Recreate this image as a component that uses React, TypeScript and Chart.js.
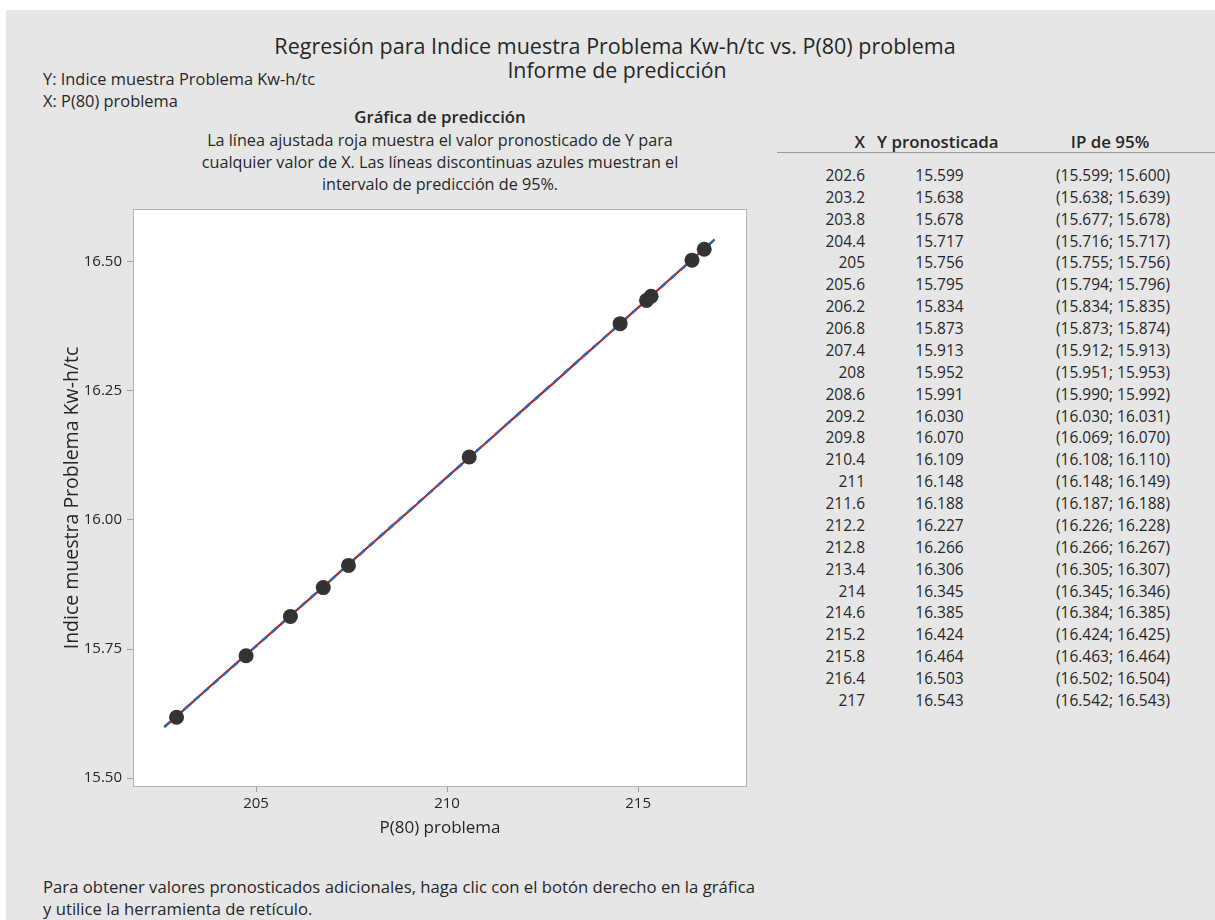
import React, { useEffect, useRef } from "react";
import { Chart, registerables } from "chart.js";

Chart.register(...registerables);

// Prediction table (X, predicted Y, 95% prediction interval)
const tableX = [202.6, 203.2, 203.8, 204.4, 205, 205.6, 206.2, 206.8, 207.4, 208, 208.6, 209.2, 209.8, 210.4, 211, 211.6, 212.2, 212.8, 213.4, 214, 214.6, 215.2, 215.8, 216.4, 217];
const predY = [15.599, 15.638, 15.678, 15.717, 15.756, 15.795, 15.834, 15.873, 15.913, 15.952, 15.991, 16.03, 16.07, 16.109, 16.148, 16.188, 16.227, 16.266, 16.306, 16.345, 16.385, 16.424, 16.464, 16.503, 16.543];
const piLow = [15.599, 15.638, 15.677, 15.716, 15.755, 15.794, 15.834, 15.873, 15.912, 15.951, 15.99, 16.03, 16.069, 16.108, 16.148, 16.187, 16.226, 16.266, 16.305, 16.345, 16.384, 16.424, 16.463, 16.502, 16.542];
const piHigh = [15.6, 15.639, 15.678, 15.717, 15.756, 15.796, 15.835, 15.874, 15.913, 15.953, 15.992, 16.031, 16.07, 16.11, 16.149, 16.188, 16.228, 16.267, 16.307, 16.346, 16.385, 16.425, 16.464, 16.504, 16.543];

// Observed samples
const obsX = [202.92, 204.74, 205.9, 206.76, 207.42, 210.58, 214.53, 215.22, 215.34, 216.41, 216.73];
const obsY = [15.618, 15.737, 15.813, 15.869, 15.912, 16.122, 16.38, 16.425, 16.433, 16.503, 16.524];

// Axis ticks
const xTicks = [205, 210, 215];
const yTicks = [15.5, 15.75, 16.0, 16.25, 16.5];

const FONT = "'Open Sans', 'Noto Sans', sans-serif";
const TEXT = "#262626";
const BG = "#e6e6e6";

const plotFrame = {
  id: "plotFrame",
  beforeDraw(chart: any) {
    const { ctx, chartArea: a } = chart;
    ctx.save();
    ctx.fillStyle = "#ffffff";
    ctx.fillRect(a.left, a.top, a.right - a.left, a.bottom - a.top);
    ctx.strokeStyle = "#b4b4b4";
    ctx.lineWidth = 1;
    ctx.strokeRect(a.left + 0.5, a.top + 0.5, a.right - a.left - 1, a.bottom - a.top - 1);
    ctx.restore();
  },
};

function PredictionChart() {
  const ref = useRef<HTMLCanvasElement | null>(null);
  useEffect(() => {
    if (!ref.current) return;
    const line = (ys: number[]) => tableX.map((x, i) => ({ x, y: ys[i] }));
    const chart = new Chart(ref.current, {
      type: "scatter",
      data: {
        datasets: [
          {
            label: "obs",
            data: obsX.map((x, i) => ({ x, y: obsY[i] })),
            backgroundColor: "#333333",
            borderWidth: 0,
            pointRadius: 7.5,
            order: 0,
          },
          {
            label: "lower",
            data: line(piLow),
            showLine: true,
            borderColor: "#3b63aa",
            borderWidth: 2,
            borderDash: [7, 6],
            pointRadius: 0,
            order: 1,
          },
          {
            label: "upper",
            data: line(piHigh),
            showLine: true,
            borderColor: "#3b63aa",
            borderWidth: 2,
            borderDash: [7, 6],
            pointRadius: 0,
            order: 2,
          },
          {
            label: "fit",
            data: line(predY),
            showLine: true,
            borderColor: "#b3242b",
            borderWidth: 2.2,
            pointRadius: 0,
            order: 3,
          },
        ],
      },
      options: {
        animation: false,
        responsive: false,
        events: [],
        layout: { padding: { top: 14, right: 23, left: 0, bottom: 0 } },
        plugins: { legend: { display: false }, tooltip: { enabled: false } },
        scales: {
          x: {
            type: "linear",
            min: 201.78,
            max: 217.85,
            afterBuildTicks: (s: any) => {
              s.ticks = xTicks.map((v) => ({ value: v }));
            },
            afterFit: (s: any) => {
              s.height = 68;
            },
            grid: { drawOnChartArea: false, drawTicks: true, tickLength: 5, tickColor: "#a0a0a0" },
            border: { display: false },
            ticks: {
              color: TEXT,
              font: { family: FONT, size: 15 },
              padding: 3,
              maxRotation: 0,
              autoSkip: false,
              callback: (v: any) => String(v),
            },
            title: {
              display: true,
              text: "P(80) problema",
              color: TEXT,
              font: { family: FONT, size: 17 },
              padding: { top: 0, bottom: 16.8 },
            },
          },
          y: {
            type: "linear",
            min: 15.483,
            max: 16.602,
            afterBuildTicks: (s: any) => {
              s.ticks = yTicks.map((v) => ({ value: v }));
            },
            afterFit: (s: any) => {
              s.width = 93;
            },
            grid: { drawOnChartArea: false, drawTicks: true, tickLength: 6, tickColor: "#a0a0a0" },
            border: { display: false },
            ticks: {
              color: TEXT,
              font: { family: FONT, size: 15 },
              padding: 5,
              autoSkip: false,
              callback: (v: any) => Number(v).toFixed(2),
            },
            title: {
              display: true,
              text: "Indice muestra Problema Kw-h/tc",
              color: TEXT,
              font: { family: FONT, size: 19.5 },
              padding: { top: 21, bottom: 0 },
            },
          },
        },
      },
      plugins: [plotFrame],
    });
    return () => chart.destroy();
  }, []);
  return (
    <canvas
      ref={ref}
      width={730}
      height={660}
      style={{ position: "absolute", left: 40, top: 195, width: 730, height: 660 }}
    />
  );
}

const abs = (left: number, top: number, extra: React.CSSProperties = {}): React.CSSProperties => ({
  position: "absolute",
  left,
  top,
  whiteSpace: "nowrap",
  lineHeight: "20px",
  ...extra,
});

export default function App() {
  const rowTop = 165;
  const rowStep = 21.87;
  return (
    <div
      style={{
        position: "absolute",
        left: 0,
        top: 0,
        width: 1215,
        height: 920,
        background: "#ffffff",
        overflow: "hidden",
        fontFamily: FONT,
        color: TEXT,
      }}
    >
      <div style={{ position: "absolute", left: 6, top: 10, width: 1209, height: 910, background: BG }} />

      <div style={abs(115, 35, { width: 1000, textAlign: "center", fontSize: 21.5, lineHeight: "22px" })}>
        Regresión para Indice muestra Problema Kw-h/tc vs. P(80) problema
      </div>
      <div style={abs(117, 59, { width: 1000, textAlign: "center", fontSize: 21.3, lineHeight: "22px" })}>
        Informe de predicción
      </div>

      <div style={abs(43, 69, { fontSize: 16.4 })}>Y: Indice muestra Problema Kw-h/tc</div>
      <div style={abs(43, 91, { fontSize: 16.4 })}>X: P(80) problema</div>

      <div style={abs(240, 107, { width: 400, textAlign: "center", fontSize: 16.8, fontWeight: 600 })}>
        Gráfica de predicción
      </div>
      <div
        style={abs(140, 129, {
          width: 600,
          textAlign: "center",
          fontSize: 16.2,
          lineHeight: "22px",
          whiteSpace: "normal",
        })}
      >
        La línea ajustada roja muestra el valor pronosticado de Y para
        <br />
        cualquier valor de X. Las líneas discontinuas azules muestran el
        <br />
        intervalo de predicción de 95%.
      </div>

      <PredictionChart />

      {/* prediction table */}
      <div style={abs(800, 132, { width: 65, textAlign: "right", fontSize: 16.9, fontWeight: 600 })}>X</div>
      <div style={abs(877, 132, { fontSize: 16.9, fontWeight: 600 })}>Y pronosticada</div>
      <div style={abs(1010, 132, { width: 200, textAlign: "center", fontSize: 16.9, fontWeight: 600 })}>
        IP de 95%
      </div>
      <div style={{ position: "absolute", left: 777, top: 152, width: 438, height: 1, background: "#9a9a9a" }} />
      {tableX.map((x, i) => (
        <React.Fragment key={i}>
          <div style={abs(780, rowTop + i * rowStep, { width: 85, textAlign: "right", fontSize: 15.5 })}>
            {String(x)}
          </div>
          <div style={abs(900, rowTop + i * rowStep, { width: 79, textAlign: "center", fontSize: 15.5 })}>
            {predY[i].toFixed(3)}
          </div>
          <div style={abs(1000, rowTop + i * rowStep, { width: 170, textAlign: "right", fontSize: 15.5 })}>
            ({piLow[i].toFixed(3)}; {piHigh[i].toFixed(3)})
          </div>
        </React.Fragment>
      ))}

      <div style={abs(43, 877, { fontSize: 16.7 })}>
        Para obtener valores pronosticados adicionales, haga clic con el botón derecho en la gráfica
      </div>
      <div style={abs(43, 899, { fontSize: 16.7 })}>y utilice la herramienta de retículo.</div>
    </div>
  );
}
